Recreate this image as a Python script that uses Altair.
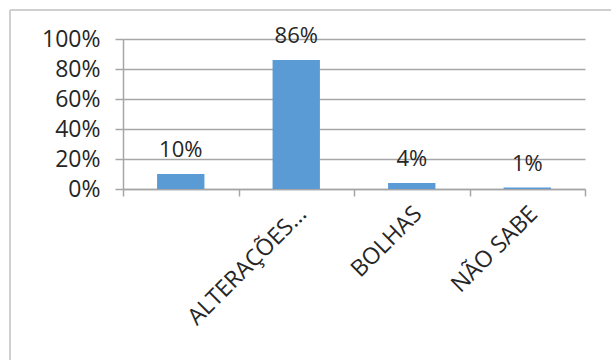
import altair as alt
import pandas as pd

categories = [" ", "ALTERAÇÕES...", "BOLHAS", "NÃO SABE"]
values = [0.10, 0.86, 0.04, 0.01]

df = pd.DataFrame({"cat": categories, "val": values})

FONT = "Open Sans"
TXT = "#262626"
GRID = "#a6a6a6"

x = alt.X(
    "cat:N",
    sort=categories,
    title=None,
    scale=alt.Scale(paddingInner=0, paddingOuter=0),
    axis=alt.Axis(
        labelAngle=-45,
        labelAlign="right",
        labelBaseline="middle",
        labelFont=FONT,
        labelFontSize=23,
        labelColor=TXT,
        labelPadding=14,
        labelOffset=6,
        tickBand="extent",
        ticks=True,
        tickSize=7,
        tickColor=GRID,
        tickWidth=1.5,
        domainColor=GRID,
        domainWidth=1.5,
        grid=False,
        labelOverlap=False,
    ),
)

y = alt.Y(
    "val:Q",
    title=None,
    scale=alt.Scale(domain=[0, 1], nice=False),
    axis=alt.Axis(
        values=[0, 0.2, 0.4, 0.6, 0.8, 1.0],
        format=".0%",
        labelFont=FONT,
        labelFontSize=23,
        labelColor=TXT,
        labelPadding=15,
        labelOverlap=False,
        labelFlush=False,
        tickSize=8,
        tickColor=GRID,
        tickWidth=1.5,
        domainColor=GRID,
        domainWidth=1.5,
        grid=True,
        gridColor=GRID,
        gridWidth=1.5,
    ),
)

base = alt.Chart(df).encode(x=x, y=y)

bars = base.mark_bar(color="#5B9BD5", width=alt.RelativeBandSize(0.41))

labels = base.mark_text(
    baseline="alphabetic", dy=-17, font=FONT, fontSize=22, color=TXT
).encode(text=alt.Text("val:Q", format=".0%"))

border_data = alt.Data(values=[{"k": 1}])
left_border = alt.Chart(border_data).mark_rule(color="#d0d0d0", strokeWidth=2).encode(
    x=alt.value(-113), y=alt.value(-29), y2=alt.value(330)
)
top_border = alt.Chart(border_data).mark_rule(color="#d0d0d0", strokeWidth=2).encode(
    x=alt.value(-113), x2=alt.value(500), y=alt.value(-29)
)

chart = (
    alt.layer(bars, labels, left_border, top_border)
    .properties(
        width=462,
        height=150,
        autosize=alt.AutoSizeParams(type="none"),
        padding={"left": 123, "top": 39, "right": 26, "bottom": 171},
        background="white",
    )
    .configure_view(stroke=None)
)

chart.save("out.html", embed_options={"renderer": "svg", "actions": False})
